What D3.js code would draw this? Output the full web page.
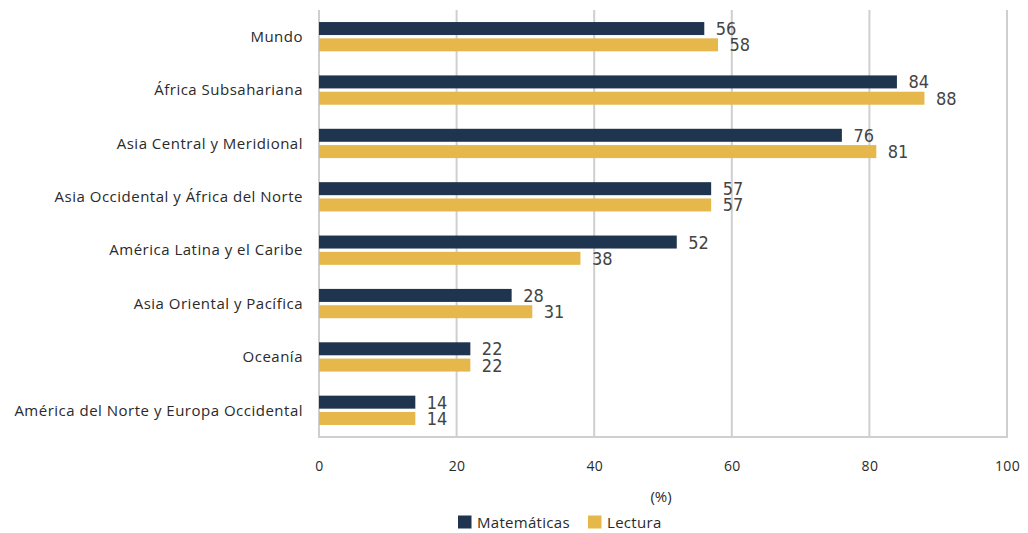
<!DOCTYPE html>
<html>
<head>
<meta charset="utf-8">
<script src="https://cdn.jsdelivr.net/npm/d3@7"></script>
<style>
  html, body { margin: 0; padding: 0; background: #fff; }
  svg { display: block; }
</style>
</head>
<body>
<div id="chart"></div>
<script>
// Regions, in drawing order from top to bottom
const regions = [
  "Mundo",
  "África Subsahariana",
  "Asia Central y Meridional",
  "Asia Occidental y África del Norte",
  "América Latina y el Caribe",
  "Asia Oriental y Pacífica",
  "Oceanía",
  "América del Norte y Europa Occidental"
];
// Share of students below minimum proficiency (%)
const matematicas = [56, 84, 76, 57, 52, 28, 22, 14];
const lectura     = [58, 88, 81, 57, 38, 31, 22, 14];
const xTicks = [0, 20, 40, 60, 80, 100];
const seriesNames = ["Matemáticas", "Lectura"];
const seriesColors = ["#1f344f", "#e6b74b"];

const width = 1028, height = 533;
const margin = { top: 10, right: 21, bottom: 96, left: 319 };

const svg = d3.select("#chart").append("svg")
  .attr("width", width).attr("height", height);

const x = d3.scaleLinear().domain([0, 100]).range([margin.left, width - margin.right]);
const y = d3.scaleBand().domain(regions).range([margin.top, height - margin.bottom]).padding(0);

const series = [matematicas, lectura];
const barH = 13, barGap = 3.3;
const textFont = "'Open Sans', sans-serif";

// Vertical gridlines
svg.append("g").selectAll("line").data(xTicks).join("line")
  .attr("x1", d => x(d)).attr("x2", d => x(d))
  .attr("y1", margin.top).attr("y2", height - margin.bottom)
  .attr("stroke", "#cfcfcf").attr("stroke-width", 2);

// Bottom baseline
svg.append("line")
  .attr("x1", x(0) - 1).attr("x2", x(100) + 1)
  .attr("y1", height - margin.bottom).attr("y2", height - margin.bottom)
  .attr("stroke", "#cfcfcf").attr("stroke-width", 2);

// X axis tick labels
const xAxis = d3.axisBottom(x).tickValues(xTicks).tickSize(0).tickPadding(0);
const gx = svg.append("g")
  .attr("transform", `translate(0,${height - margin.bottom})`)
  .call(xAxis);
gx.select(".domain").remove();
gx.selectAll("text")
  .attr("y", 29).attr("dy", "0.35em")
  .style("font-family", textFont)
  .style("font-size", "14px")
  .style("letter-spacing", "0.3px")
  .style("fill", "#2a2a2a");

// Y axis category labels
const yAxis = d3.axisLeft(y).tickSize(0).tickPadding(0);
const gy = svg.append("g")
  .attr("transform", `translate(${margin.left - 16},0)`)
  .call(yAxis);
gy.select(".domain").remove();
gy.selectAll("text")
  .attr("dy", "0.35em")
  .style("font-family", textFont)
  .style("font-size", "15px")
  .style("letter-spacing", "0.5px")
  .style("fill", "#2a2a2a");

// Bars and value labels
series.forEach((vals, si) => {
  const g = svg.append("g");
  const yOff = d => {
    const c = y(regions[d]) + y.bandwidth() / 2;
    return si === 0 ? c - barGap / 2 - barH : c + barGap / 2;
  };
  g.selectAll("rect").data(vals.map((v, i) => i)).join("rect")
    .attr("x", x(0))
    .attr("y", i => yOff(i))
    .attr("width", i => x(vals[i]) - x(0))
    .attr("height", barH)
    .attr("fill", seriesColors[si]);
  g.selectAll("text").data(vals.map((v, i) => i)).join("text")
    .attr("x", i => x(vals[i]) + 11.5)
    .attr("y", i => yOff(i) + barH / 2)
    .attr("dy", "0.36em")
    .style("font-family", "'Liberation Sans Narrow', 'DejaVu Sans Condensed', sans-serif")
    .style("font-size", "18px")
    .style("fill", "#444")
    .text(i => vals[i]);
});

// Unit label
svg.append("text")
  .attr("x", 661).attr("y", 497).attr("dy", "0.35em")
  .attr("text-anchor", "middle")
  .style("font-family", textFont)
  .style("font-size", "15px")
  .style("fill", "#2a2a2a")
  .text("(%)");

// Legend
const legend = svg.append("g").attr("transform", "translate(458,515.5)");
const legendX = [0, 130];
seriesNames.forEach((name, i) => {
  const item = legend.append("g").attr("transform", `translate(${legendX[i]},0)`);
  item.append("rect").attr("width", 13.5).attr("height", 13).attr("fill", seriesColors[i]);
  item.append("text")
    .attr("x", 19).attr("y", 7).attr("dy", "0.35em")
    .style("font-family", textFont)
    .style("font-size", "15px")
    .style("letter-spacing", "0.3px")
    .style("fill", "#2a2a2a")
    .text(name);
});
</script>
</body>
</html>
